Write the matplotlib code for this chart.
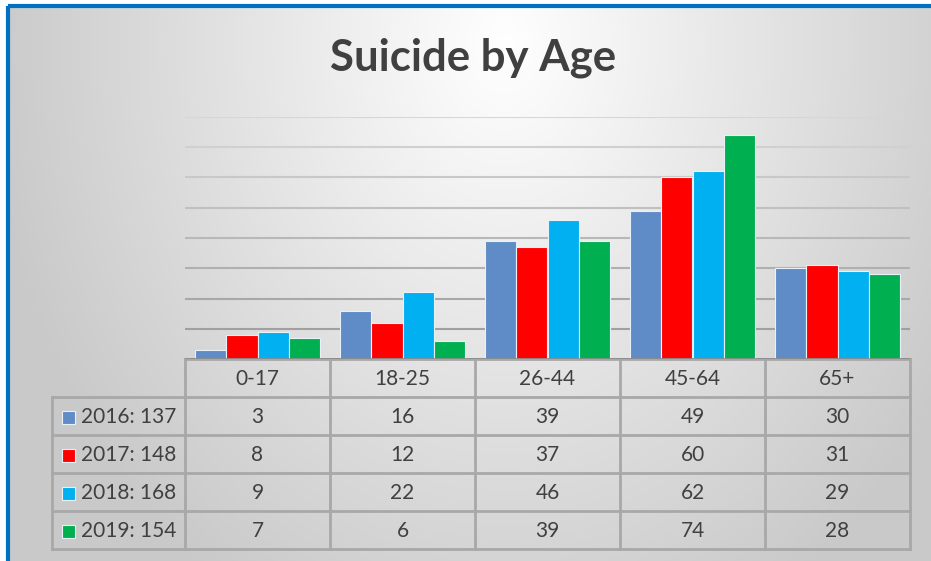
import numpy as np
import matplotlib
matplotlib.use("Agg")
import matplotlib.pyplot as plt

# data
categories = ["0-17", "18-25", "26-44", "45-64", "65+"]
series_names = ["2016: 137", "2017: 148", "2018: 168", "2019: 154"]
v2016 = [3, 16, 39, 49, 30]
v2017 = [8, 12, 37, 60, 31]
v2018 = [9, 22, 46, 62, 29]
v2019 = [7, 6, 39, 74, 28]
colors = ["#5f8cc6", "#ff0000", "#00b0f0", "#00b050"]

all_values = [v2016, v2017, v2018, v2019]

plt.rcParams["font.family"] = ["Lato", "DejaVu Sans"]
W, H = 931, 561
fig = plt.figure(figsize=(W / 100, H / 100), dpi=100)
fig.patch.set_facecolor("white")

# background axes in pixel coords
bg = fig.add_axes([0, 0, 1, 1])
bg.set_xlim(0, W)
bg.set_ylim(H, 0)
bg.axis("off")

# radial grey gradient
yy, xx = np.mgrid[0:H, 0:W]
r = np.sqrt(((xx - 500) / 520.0) ** 2 + ((yy - 40) / 650.0) ** 2)
g = 1.0 - 0.21 * np.clip(r, 0, 1)
img = np.dstack([g, g, g])
bg.imshow(img, extent=(8, W, H, 6), zorder=0, aspect="auto")
bg.plot([8, 8], [6, H], color="#0070c0", lw=3, zorder=5, solid_capstyle="butt")
bg.plot([8, W], [6, 6], color="#0070c0", lw=3, zorder=5, solid_capstyle="butt")

bg.text(473, 58, "Suicide by Age", ha="center", va="center", fontsize=31.5,
        fontweight="bold", color="#404040")

# bar axes
x0, x1, ytop, ybot = 185, 910, 117, 359
ax = fig.add_axes([x0 / W, (H - ybot) / H, (x1 - x0) / W, (ybot - ytop) / H])
ax.patch.set_alpha(0)
n = len(categories)
ax.set_xlim(0, n)
ax.set_ylim(0, 80)
bw = 0.214
for i, vals in enumerate(all_values):
    xs = np.arange(n) + 0.5 + (i - 1.5) * bw
    ax.bar(xs, vals, width=bw, color=colors[i], edgecolor="#e8f0f8", linewidth=0.8, zorder=3)
grid_cols = ["#d6d6d6", "#d0d0d0", "#c8c8c8", "#c0c0c0", "#b8b8b8", "#b0b0b0", "#a8a8a8", "#a0a0a0"]
for yv, gc in zip(range(80, 0, -10), grid_cols):
    ax.axhline(yv, color=gc, lw=1.5, zorder=1)
ax.axhline(0, color="#8c8c8c", lw=2, zorder=4)
for s in ax.spines.values():
    s.set_visible(False)
ax.set_xticks([])
ax.set_yticks([])

# data table
lc = "#a8a8a8"
colw = (x1 - x0) / n
row_tops = [359, 397, 435, 473, 511, 549]
lab_x = 52
for k in range(n + 1):
    xk = x0 + k * colw
    bg.plot([xk, xk], [row_tops[0], row_tops[-1]], color=lc, lw=2, zorder=6)
bg.plot([lab_x, lab_x], [row_tops[1], row_tops[-1]], color=lc, lw=2, zorder=6)
for j, yt in enumerate(row_tops):
    left = x0 if j == 0 else lab_x
    bg.plot([left, x1], [yt, yt], color=lc, lw=2, zorder=6)
for k, cat in enumerate(categories):
    bg.text(x0 + (k + 0.5) * colw, (row_tops[0] + row_tops[1]) / 2 + 1, cat,
            ha="center", va="center", fontsize=15, color="#404040", zorder=7)
for j, (name, vals) in enumerate(zip(series_names, all_values)):
    yc = (row_tops[j + 1] + row_tops[j + 2]) / 2 + 1
    bg.add_patch(plt.Rectangle((62, yc - 6.5), 13, 13, facecolor=colors[j],
                               edgecolor="#e8f0f8", lw=0.8, zorder=7))
    bg.text(81, yc, name, ha="left", va="center", fontsize=15, color="#404040", zorder=7)
    for k, v in enumerate(vals):
        bg.text(x0 + (k + 0.5) * colw, yc, str(v), ha="center", va="center",
                fontsize=15, color="#404040", zorder=7)

fig.savefig("out.png", dpi=100)
